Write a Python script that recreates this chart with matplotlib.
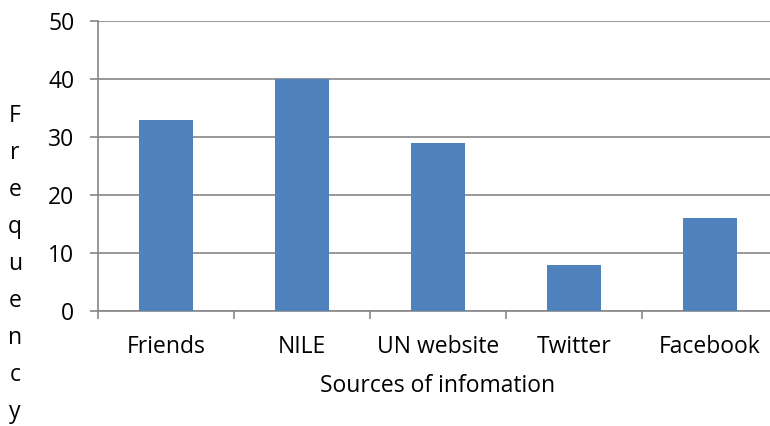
import matplotlib
matplotlib.use("Agg")
import matplotlib.pyplot as plt

categories = ["Friends", "NILE", "UN website", "Twitter", "Facebook"]
values = [33, 40, 29, 8, 16]
yticks = [0, 10, 20, 30, 40, 50]

plt.rcParams['font.family'] = ['Open Sans', 'DejaVu Sans']
W, H = 770, 426
fs = 16.5
fig = plt.figure(figsize=(W / 100, H / 100), dpi=100)
left, right, top, bottom = 98, 778, 21, 311
ax = fig.add_axes([left / W, 1 - bottom / H, (right - left) / W, (bottom - top) / H])

grid_c = "#868686"
x = list(range(len(categories)))
ax.bar(x, values, width=0.4, color="#4F81BD", zorder=3)
ax.set_xlim(-0.5, len(categories) - 0.5)
ax.set_ylim(0, 50)
ax.set_yticks(yticks)
ax.set_yticklabels([str(v) for v in yticks], fontsize=fs)
ax.yaxis.grid(True, color=grid_c, linewidth=1.2, zorder=0)
ax.set_axisbelow(True)

ax.set_xticks(x)
ax.set_xticklabels(categories, fontsize=fs)
ax.set_xticks([i - 0.5 for i in range(len(categories) + 1)], minor=True)
ax.tick_params(axis='x', which='major', length=0, pad=17)
ax.tick_params(axis='x', which='minor', length=6, color=grid_c, width=1.2)
ax.tick_params(axis='y', length=6, color=grid_c, width=1.2, pad=11)

for s in ['top', 'right']:
    ax.spines[s].set_visible(False)
for s in ['left', 'bottom']:
    ax.spines[s].set_color(grid_c)
    ax.spines[s].set_linewidth(1.2)

ax.set_xlabel("Sources of infomation", fontsize=fs, labelpad=11)
fig.text(15 / W, 1 - 264 / H, "\n".join("Frequency"), ha='center', va='center',
         fontsize=fs, linespacing=1.72)

fig.savefig("out.png", dpi=100)
